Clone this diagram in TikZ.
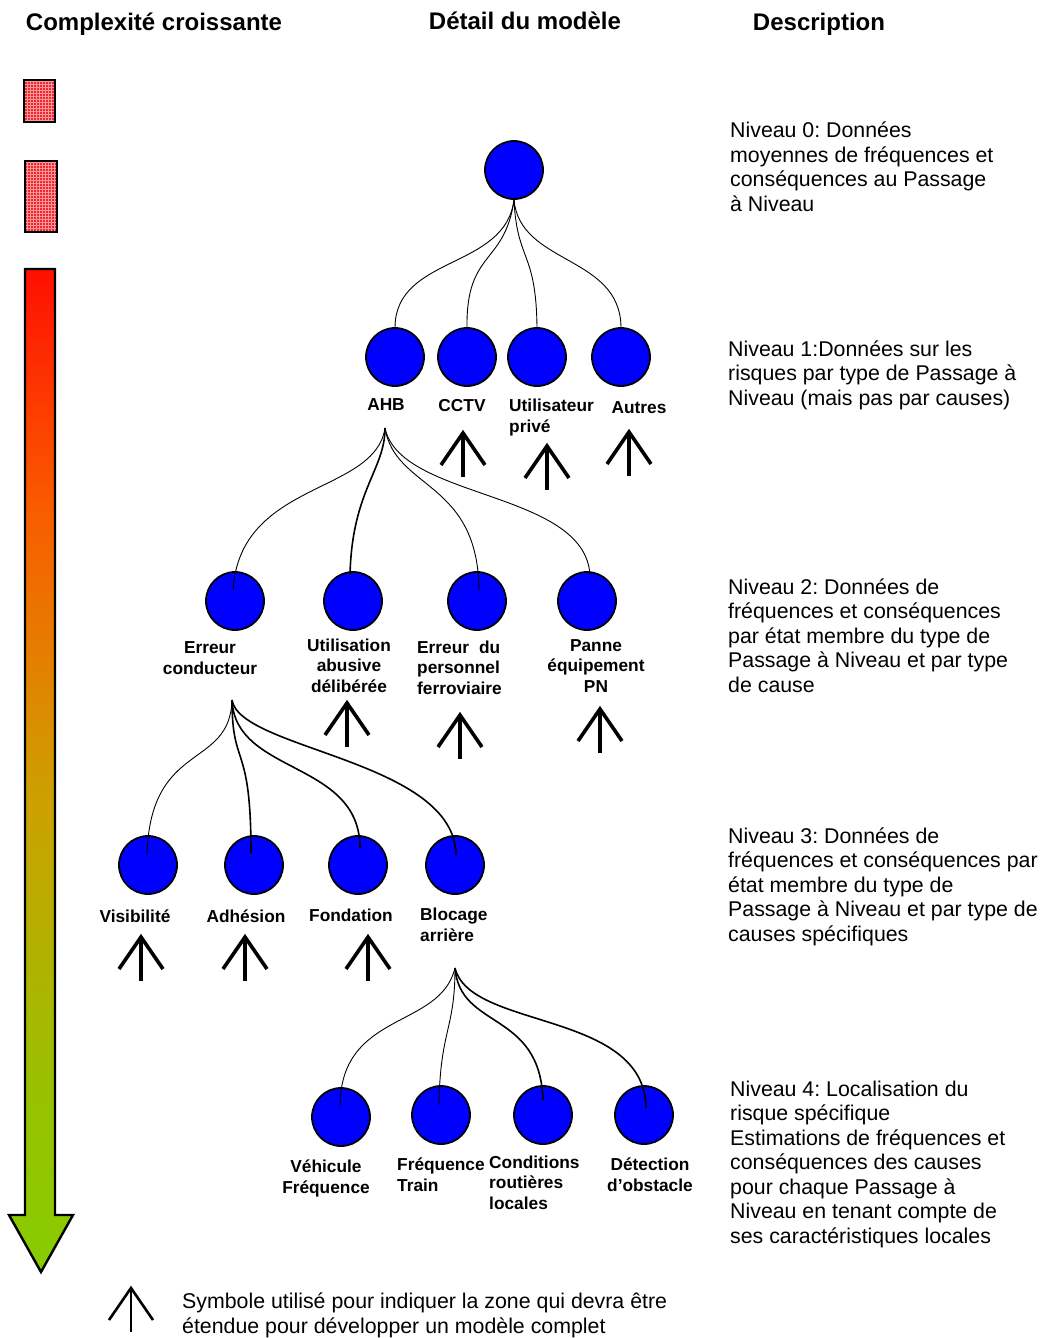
\documentclass[tikz,border=0pt]{standalone}
\usepackage{fontspec}
\setmainfont{Liberation Sans}
\usetikzlibrary{patterns,shadings}
\frenchspacing
\definecolor{nodeblue}{RGB}{0,0,255}
\definecolor{boxred}{RGB}{238,40,50}
\definecolor{boxgrid}{RGB}{255,150,150}
% red -> orange -> yellow-green scale (stops mapped into the central 25bp--75bp band)
\pgfdeclareverticalshading{scalebar}{100bp}{%
  rgb(0bp)=(0.53,0.80,0); rgb(25bp)=(0.53,0.80,0); rgb(33.5bp)=(0.59,0.76,0);
  rgb(48.5bp)=(0.80,0.63,0); rgb(56bp)=(0.90,0.49,0); rgb(63.5bp)=(0.98,0.35,0);
  rgb(75bp)=(1,0.06,0); rgb(100bp)=(1,0.06,0)}
\begin{document}
\begin{tikzpicture}[x=1pt,y=-1pt,
  ball/.style={circle, draw=black, line width=1.8pt, fill=nodeblue, minimum size=58pt, inner sep=0pt},
  lbl/.style={font=\fontsize{17.3}{20.5}\selectfont\bfseries, inner sep=0pt, align=center, anchor=base},
  lbll/.style={lbl, align=left, anchor=base west},
  desc/.style={font=\fontsize{21.33}{24.5}\selectfont, inner sep=0pt, align=left, anchor=base west},
  head/.style={font=\fontsize{24}{28}\selectfont\bfseries, inner sep=0pt, anchor=base},
  link/.style={line width=0.9pt},
  boldlink/.style={line width=1.6pt},
  pics/expandmark/.style={code={
    \draw[line width=#1, line join=miter] (-22,32) -- (0,0) -- (22,32);
    \draw[line width=#1] (0,0) -- (0,44);
  }}
]
\useasboundingbox (0,0) rectangle (1044,1338);

% column headings
\node[head] (h1) at (154,31) {Complexité croissante};
\node[head] (h2) at (525,30) {Détail du modèle};
\node[head] (h3) at (819,31) {Description};

% complexity scale: two hatched blocks and the shaded arrow
\fill[boxred] (24,80) rectangle (55,122);
\fill[pattern=grid, pattern color=boxgrid] (24,80) rectangle (55,122);
\draw[line width=2.2pt] (24,80) rectangle (55,122);
\fill[boxred] (25,161) rectangle (57,232);
\fill[pattern=grid, pattern color=boxgrid] (25,161) rectangle (57,232);
\draw[line width=2.2pt] (25,161) rectangle (57,232);
\shadedraw[shading=scalebar, draw=black, line width=2.4pt, line join=miter]
  (25,269) -- (55,269) -- (55,1215) -- (73,1215) -- (41,1272) -- (9,1215) -- (25,1215) -- cycle;

% level 0
\node[ball] (r) at (514,170) {};

% level 1 (multi-line labels are placed by the baseline of their last line)
\node[ball] (ahb) at (395,357) {};
\node[ball] (cctv) at (467,357) {};
\node[ball] (util) at (537,357) {};
\node[ball] (autres) at (621,357) {};
\node[lbl] (ahbL) at (386,410) {AHB};
\node[lbl] (cctvL) at (462,411) {CCTV};
\node[lbll] (utilL) at (509,432) {Utilisateur\\privé};
\node[lbl] (autresL) at (639,413) {Autres};
\coordinate (ahbfork) at (385,428);

% level 2
\node[ball] (ec) at (235,601) {};
\node[ball] (ua) at (353,601) {};
\node[ball] (ep) at (477,601) {};
\node[ball] (pe) at (587,601) {};
\node[lbl] (ecL) at (210,674) {Erreur\\conducteur};
\node[lbl] (uaL) at (349,692) {Utilisation\\abusive\\délibérée};
\node[lbll] (epL) at (417,694) {\makebox[83pt][s]{Erreur du}\\personnel\\ferroviaire};
\node[lbl] (peL) at (596,692) {Panne\\équipement\\PN};
\coordinate (ecfork) at (232,700);

% level 3
\node[ball] (vis) at (148,865) {};
\node[ball] (adh) at (254,865) {};
\node[ball] (fon) at (358,865) {};
\node[ball] (blo) at (455,865) {};
\node[lbl] (visL) at (135,922) {Visibilité};
\node[lbl] (adhL) at (246,922) {Adhésion};
\node[lbl] (fonL) at (351,921) {Fondation};
\node[lbll] (bloL) at (420,941) {Blocage\\arrière};
\coordinate (blofork) at (455,968);

% level 4
\node[ball] (veh) at (341,1117) {};
\node[ball] (tra) at (441,1115) {};
\node[ball] (con) at (543,1115) {};
\node[ball] (det) at (644,1115) {};
\node[lbl] (vehL) at (326,1193) {Véhicule\\Fréquence};
\node[lbll] (traL) at (397,1191) {Fréquence\\Train};
\node[lbll] (conL) at (489,1209) {Conditions\\routières\\locales};
\node[lbl] (detL) at (650,1191) {Détection\\d’obstacle};

% branches 0 -> 1
\draw[link] (r.south) .. controls (505,270) and (396,255) .. (ahb.north);
\draw[link] (r.south) .. controls (505,265) and (466,250) .. (cctv.north);
\draw[link] (r.south) .. controls (517,262) and (536,250) .. (util.north);
\draw[link] (r.south) .. controls (520,265) and (620,255) .. (autres.north);

% branches 1 -> 2
\draw[link] (ahbfork) .. controls (375,495) and (240,480) .. ([xshift=-2pt,yshift=-19pt]ec.north);
\draw[boldlink] (ahbfork) .. controls (385,470) and (352,490) .. ([xshift=-3pt,yshift=-4pt]ua.north);
\draw[link] (ahbfork) .. controls (395,490) and (478,480) .. ([xshift=2pt,yshift=-19pt]ep.north);
\draw[link] (ahbfork) .. controls (400,500) and (585,490) .. ([xshift=3pt,yshift=-4pt]pe.north);

% branches 2 -> 3
\draw[link] (ecfork) .. controls (230,770) and (150,740) .. ([xshift=-1pt,yshift=-20pt]vis.north);
\draw[boldlink] (ecfork) .. controls (232,770) and (251,740) .. ([xshift=-3pt,yshift=-18pt]adh.north);
\draw[boldlink] (ecfork) .. controls (235,775) and (360,760) .. ([xshift=2pt,yshift=-13pt]fon.north);
\draw[boldlink] (ecfork) .. controls (240,750) and (455,760) .. ([xshift=1pt,yshift=-20pt]blo.north);

% branches 3 -> 4
\draw[link] (blofork) .. controls (440,1030) and (340,1010) .. ([xshift=-1pt,yshift=-20pt]veh.north);
\draw[link] (blofork) .. controls (455,1030) and (440,1030) .. ([xshift=-2pt,yshift=-20pt]tra.north);
\draw[boldlink] (blofork) .. controls (460,1030) and (540,1010) .. ([yshift=-15pt]con.north);
\draw[boldlink] (blofork) .. controls (470,1030) and (645,1010) .. ([xshift=2pt,yshift=-23pt]det.north);

% marks for branches still to be developed
\pic (m1) at (463,433) {expandmark=3.6pt};
\pic (m2) at (547,446) {expandmark=3.6pt};
\pic (m3) at (629,432) {expandmark=3.6pt};
\pic (m4) at (347,703) {expandmark=3.6pt};
\pic (m5) at (460,715) {expandmark=3.6pt};
\pic (m6) at (600,709) {expandmark=3.6pt};
\pic (m7) at (141,937) {expandmark=3.6pt};
\pic (m8) at (245,937) {expandmark=3.6pt};
\pic (m9) at (368,937) {expandmark=3.6pt};

% descriptions
\node[desc] (d0) at (730,211) {Niveau 0: Données\\moyennes de fréquences et\\conséquences au Passage\\à Niveau};
\node[desc] (d1) at (728,405) {Niveau 1:Données sur les\\risques par type de Passage à\\Niveau (mais pas par causes)};
\node[desc] (d2) at (728,692) {Niveau 2: Données de\\fréquences et conséquences\\par état membre du type de\\Passage à Niveau et par type\\de cause};
\node[desc] (d3) at (728,941) {Niveau 3: Données de\\fréquences et conséquences par\\état membre du type de\\Passage à Niveau et par type de\\causes spécifiques};
\node[desc] (d4) at (730,1243) {Niveau 4: Localisation du\\risque spécifique\\Estimations de fréquences et\\conséquences des causes\\pour chaque Passage à\\Niveau en tenant compte de\\ses caractéristiques locales};

% legend
\pic (leg) at (131,1288) {expandmark=2.6pt};
\node[desc] (legT) at (182,1333) {Symbole utilisé pour indiquer la zone qui devra être\\étendue pour développer un modèle complet};
\end{tikzpicture}
\end{document}
